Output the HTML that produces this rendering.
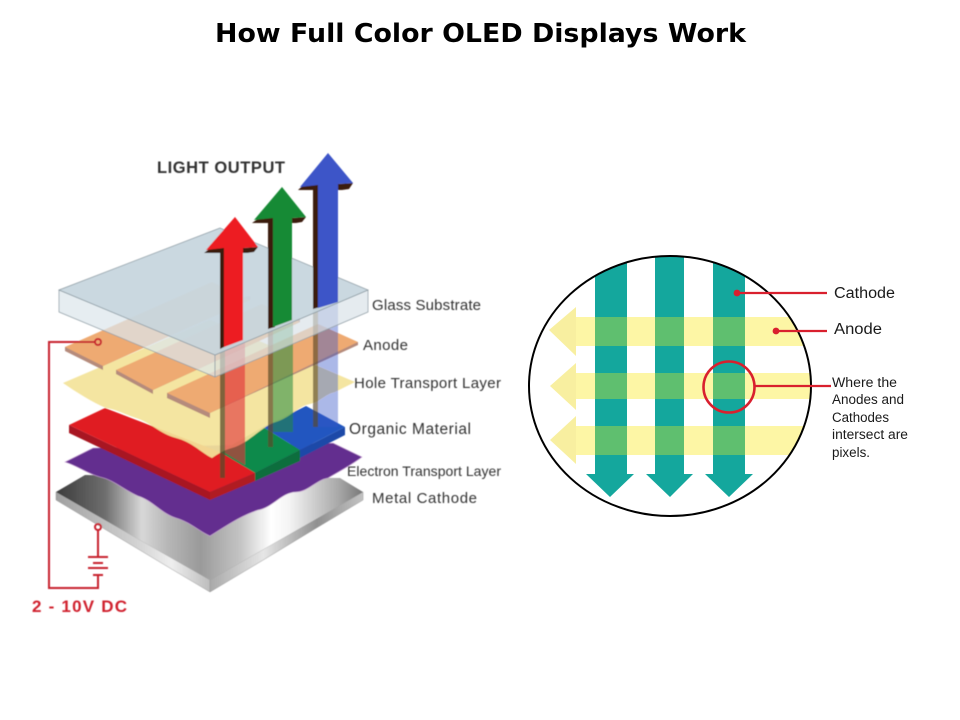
<!DOCTYPE html>
<html><head><meta charset="utf-8"><style>html,body{margin:0;padding:0;background:#fff}svg{display:block}</style></head>
<body>
<svg width="960" height="720" viewBox="0 0 960 720" xmlns="http://www.w3.org/2000/svg">
<defs>
<filter id="soft" x="-5%" y="-5%" width="110%" height="110%"><feGaussianBlur stdDeviation="0.45"/></filter>
<linearGradient id="metal" gradientUnits="userSpaceOnUse" x1="56" y1="0" x2="363" y2="0">
<stop offset="0" stop-color="#3c3c3c"/><stop offset=".16" stop-color="#6e6e6e"/><stop offset=".28" stop-color="#d8d8d8"/><stop offset=".36" stop-color="#b8b8b8"/><stop offset=".47" stop-color="#9a9a9a"/><stop offset=".6" stop-color="#c4c4c4"/><stop offset=".7" stop-color="#ffffff"/><stop offset=".76" stop-color="#f4f4f4"/><stop offset=".92" stop-color="#a8a8a8"/><stop offset="1" stop-color="#777"/>
</linearGradient>
<linearGradient id="metalL" gradientUnits="userSpaceOnUse" x1="56" y1="0" x2="210" y2="0"><stop offset="0" stop-color="#a0a0a0"/><stop offset=".5" stop-color="#d0d0d0"/><stop offset=".75" stop-color="#eeeeee"/><stop offset="1" stop-color="#bdbdbd"/></linearGradient>
<linearGradient id="metalR" gradientUnits="userSpaceOnUse" x1="210" y1="0" x2="363" y2="0"><stop offset="0" stop-color="#a9a9a9"/><stop offset=".35" stop-color="#e6e6e6"/><stop offset=".7" stop-color="#909090"/><stop offset="1" stop-color="#c2c2c2"/></linearGradient>
<clipPath id="circ"><ellipse cx="670" cy="386" rx="141" ry="130"/></clipPath>
</defs>

<text x="215" y="42" font-family="'DejaVu Sans',sans-serif" font-weight="700" font-size="26" textLength="531" lengthAdjust="spacingAndGlyphs" fill="#000">How Full Color OLED Displays Work</text>

<g filter="url(#soft)">
<!-- metal -->
<polygon points="56,492 210,580 210,592 56,500" fill="url(#metalL)" stroke="#999" stroke-width=".5"/>
<polygon points="210,580 363,492 363,500 210,592" fill="url(#metalR)" stroke="#999" stroke-width=".5"/>
<polygon points="56,492 85,475 340,478 363,492 210,580" fill="url(#metal)"/>
<!-- purple -->
<path d="M65,462 L93,448 L333,443 L362,457 C350,466 338,472 328,478 C316,480 308,492 296,492 C282,492 272,508 258,510 C240,516 226,526 210,536 C200,532 190,522 176,518 C162,514 152,500 138,496 C124,490 114,480 100,477 C88,474 78,466 65,462 Z" fill="#642e8f" stroke="#c9a0d6" stroke-width=".6"/>
<!-- organic -->
<polygon points="69,425 69,433 210,500 210,492" fill="#a81820"/>
<polygon points="210,492 210,500 255,481 255,473" fill="#b01a22"/>
<polygon points="255,473 255,481 300,461 300,450" fill="#0c6e3e"/>
<polygon points="300,450 300,458 345,435 345,427" fill="#1f4aa8"/>
<polygon points="300,450 345,427 306,406 263,427" fill="#2156c0"/>
<polygon points="255,473 300,450 263,427 220,452" fill="#0f8a4c"/>
<polygon points="69,425 105,408 220,452 255,473 210,492" fill="#e01b24"/>
<!-- yellow HTL -->
<path d="M63,383 L210,320 L355,382 L335,392 C325,394 320,402 310,404 C298,406 290,418 276,422 C262,426 248,444 232,448 C224,450 218,454 212,458 C200,452 192,442 176,438 C160,434 150,422 136,418 C124,414 118,410 106,408 C92,402 76,392 63,383 Z" fill="#f3e39a" fill-opacity=".93"/>
<!-- anode strips -->
<polygon points="65,347 65,351 103,370 103,366 250,300 250,296" fill="#b58b7c"/>
<polygon points="65,347 103,366 250,300 212,282" fill="#eeaa72"/>
<polygon points="116,370 116,374 153,394 153,390 300,322 300,318" fill="#b58b7c"/>
<polygon points="116,370 153,390 300,322 262,304" fill="#eeaa72"/>
<polygon points="167,393 167,398 210,418 210,413 358,345 358,342" fill="#b58b7c"/>
<polygon points="167,393 210,413 358,342 318,324" fill="#eeaa72"/>
<!-- tails -->
<rect x="220" y="340" width="5" height="138" fill="#5a4a28" opacity=".75"/>
<polygon points="225,340 245,340 245,465 225,453" fill="#e0323a" opacity=".62"/>
<rect x="268" y="320" width="5" height="127" fill="#5a4a28" opacity=".7"/>
<rect x="273" y="320" width="20" height="112" fill="#208a3c" opacity=".55"/>
<rect x="313" y="305" width="5" height="122" fill="#5a4a28" opacity=".65"/>
<rect x="318" y="302" width="20" height="125" fill="#3a56c8" opacity=".42"/>
<!-- glass -->
<polygon points="59,290 215,355 215,377 59,312" fill="#dde6ec" fill-opacity=".72" stroke="#8c9aa2" stroke-width=".7"/>
<polygon points="215,355 368,290 368,312 215,377" fill="#d8e2e8" fill-opacity=".68" stroke="#8c9aa2" stroke-width=".7"/>
<polygon points="59,290 220,228 368,290 215,355" fill="#c8d6df" fill-opacity=".96" stroke="#8c9aa2" stroke-width=".7"/>
<!-- arrows -->
<polygon points="204,253 220,253 220,349 226,346 226,248 213,246" fill="#3a1c10"/>
<polygon points="243,248 258,247 254,252 247,253 243,253" fill="#3a1c10"/>
<polygon points="235,217 258,247 243,248 243,340 224,347 224,248 206,250" fill="#ed1c24"/>
<polygon points="252,223 268,223 268,329 275,327 275,218 262,216" fill="#3a1c10"/>
<polygon points="292,218 306,217 302,222 296,223 292,223" fill="#3a1c10"/>
<polygon points="282,187 306,217 292,218 292,320 273,327 273,218 254,220" fill="#168a34"/>
<polygon points="298,190 313,190 313,309 320,307 320,185 307,182" fill="#3a1c10"/>
<polygon points="338,184 353,183 349,189 342,190 338,190" fill="#3a1c10"/>
<polygon points="328,153 353,183 338,184 338,302 318,308 318,185 300,187" fill="#3c55c8"/>
<!-- wires -->
<g fill="none" stroke="#c8202f" stroke-width="2">
<path d="M95,342 H49 V588 H98 V575"/>
<path d="M98,530 V557"/>
<circle cx="98" cy="342" r="3"/>
<circle cx="98" cy="527" r="3"/>
<path d="M88,557 H108 M93,563 H103 M88,568 H108 M93,575 H103"/>
</g>
<!-- labels -->
<g font-family="'Liberation Sans',sans-serif" fill="#333">
<text x="157" y="173" font-weight="700" font-size="16.5" textLength="128" lengthAdjust="spacing">LIGHT OUTPUT</text>
<text x="372" y="310" font-size="15" textLength="109" lengthAdjust="spacing">Glass Substrate</text>
<text x="363" y="350" font-size="15" textLength="45" lengthAdjust="spacing">Anode</text>
<text x="354" y="388" font-size="15" textLength="147" lengthAdjust="spacing">Hole Transport Layer</text>
<text x="349" y="434" font-size="15.5" textLength="122" lengthAdjust="spacing">Organic Material</text>
<text x="347" y="476" font-size="14" textLength="154" lengthAdjust="spacing">Electron Transport Layer</text>
<text x="372" y="503" font-size="15" textLength="105" lengthAdjust="spacing">Metal Cathode</text>
<text x="32" y="612" font-weight="700" font-size="17" fill="#d0202f" textLength="95" lengthAdjust="spacing">2 - 10V DC</text>
</g>
</g>

<!-- right diagram -->
<g clip-path="url(#circ)">
<g fill="#14a79d">
<rect x="595" y="250" width="32" height="226"/><polygon points="586,474 634,474 610,497"/>
<rect x="655" y="250" width="29" height="226"/><polygon points="646,474 693,474 670,497"/>
<rect x="713" y="250" width="32" height="226"/><polygon points="705,474 753,474 729,497"/>
</g>
<g fill="#fdf6a5">
<rect x="576" y="317" width="19" height="29"/><rect x="627" y="317" width="28" height="29"/><rect x="684" y="317" width="29" height="29"/><rect x="745" y="317" width="70" height="29"/>
<rect x="576" y="373" width="19" height="26"/><rect x="627" y="373" width="28" height="26"/><rect x="684" y="373" width="29" height="26"/><rect x="745" y="373" width="70" height="26"/>
<rect x="576" y="426" width="19" height="29"/><rect x="627" y="426" width="28" height="29"/><rect x="684" y="426" width="29" height="29"/><rect x="745" y="426" width="70" height="29"/>
</g>
<g fill="#f8efa0">
<polygon points="549,330 576,307 576,356"/>
<polygon points="550,386 576,363 576,410"/>
<polygon points="550,440 576,416 576,464"/>
</g>
<g fill="#5fbf6f">
<rect x="595" y="317" width="32" height="29"/><rect x="655" y="317" width="29" height="29"/><rect x="713" y="317" width="32" height="29"/>
<rect x="595" y="373" width="32" height="26"/><rect x="655" y="373" width="29" height="26"/><rect x="713" y="373" width="32" height="26"/>
<rect x="595" y="426" width="32" height="29"/><rect x="655" y="426" width="29" height="29"/><rect x="713" y="426" width="32" height="29"/>
</g>
</g>
<ellipse cx="670" cy="386" rx="141" ry="130" fill="none" stroke="#000" stroke-width="2"/>
<g stroke="#d9202e" stroke-width="2.2" fill="none">
<circle cx="729" cy="387" r="25.5" stroke-width="2.6"/>
<path d="M755,386 H831"/>
<path d="M737,293 H827"/>
<path d="M776,331 H827"/>
</g>
<circle cx="737" cy="293" r="3.4" fill="#d9202e"/>
<circle cx="776" cy="331" r="3.4" fill="#d9202e"/>
<g font-family="'Liberation Sans',sans-serif" fill="#1a1a1a">
<text x="834" y="298" font-size="15.5" textLength="61" lengthAdjust="spacingAndGlyphs">Cathode</text>
<text x="834" y="334" font-size="15.5" textLength="48" lengthAdjust="spacingAndGlyphs">Anode</text>
<g font-size="13.5">
<text x="832" y="387" textLength="65" lengthAdjust="spacingAndGlyphs">Where the</text>
<text x="832" y="404" textLength="72" lengthAdjust="spacingAndGlyphs">Anodes and</text>
<text x="832" y="422" textLength="57" lengthAdjust="spacingAndGlyphs">Cathodes</text>
<text x="832" y="439" textLength="76" lengthAdjust="spacingAndGlyphs">intersect are</text>
<text x="832" y="457" textLength="38" lengthAdjust="spacingAndGlyphs">pixels.</text>
</g>
</g>
</svg>
</body></html>
